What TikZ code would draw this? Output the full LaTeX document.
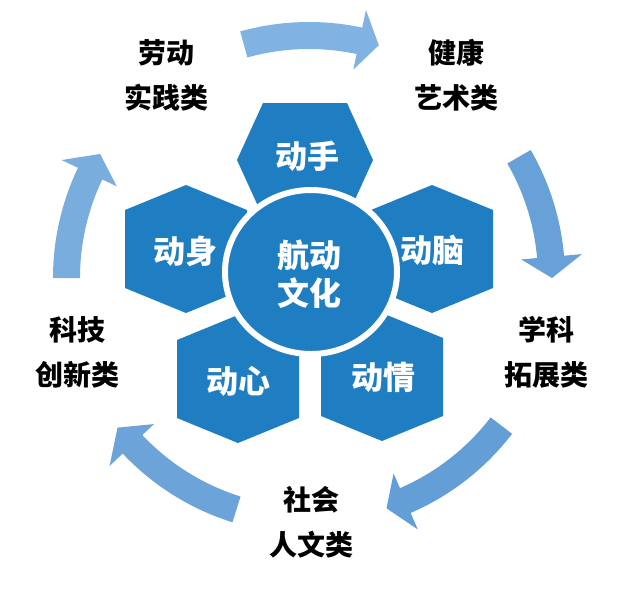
\documentclass[tikz,border=0pt]{standalone}
\usepackage{fontspec}
\newfontfamily\cjk{Noto Sans CJK SC}
\usetikzlibrary{calc}
\definecolor{hexblue}{RGB}{31,125,193}
\definecolor{arA}{RGB}{128,179,225}
\definecolor{arB}{RGB}{104,160,216}
\definecolor{arC}{RGB}{100,158,215}
\definecolor{arD}{RGB}{108,164,218}
\definecolor{arE}{RGB}{120,173,222}
\newcommand\ringarrow[4]{%
  \fill[#4] ($(ringc)+(#1:256)$) arc[start angle=#1, end angle=#2, radius=256]
    -- ($(ringc)+(#2:274)$) -- ($(ringc)+(#3:243)$) -- ($(ringc)+(#2:213)$)
    -- ($(ringc)+(#2:229)$) arc[start angle=#2, end angle=#1, radius=229] -- cycle;}
\begin{document}
\begin{tikzpicture}[x=1pt,y=-1pt,
  hexpt/.pic={\fill[hexblue] (0,-64) -- (61,-39) -- (61,39) -- (0,64) -- (-61,39) -- (-61,-39) -- cycle;},
  hexfl/.pic={\fill[hexblue] (-68,0) -- (-42,-57) -- (42,-57) -- (68,0) -- (42,57) -- (-42,57) -- cycle;},
  blk/.style={font=\cjk\bfseries\fontsize{28}{45}\selectfont, text=black, align=center, inner sep=0pt},
  wht/.style={font=\cjk\bfseries\fontsize{32}{38}\selectfont, text=white, align=center, inner sep=0pt}]
\useasboundingbox (0,0) rectangle (624,598);
\fill[white] (0,0) rectangle (624,598);
\coordinate (ringc) at (309,278);
% ring arrows
\ringarrow{-105.6}{-78}{-73.3}{arA}
\ringarrow{-30}{-5}{0}{arB}
\ringarrow{37.5}{66.6}{71.4}{arC}
\ringarrow{107.4}{136.7}{142}{arD}
\ringarrow{180}{205.5}{210.7}{arE}
% hexagons
\pic at (305,160) {hexfl};
\pic at (432,249) {hexpt};
\pic at (186,249) {hexpt};
\pic at (238,379) {hexpt};
\pic at (382,377) {hexpt};
% centre circle
\draw[white, line width=6pt, fill=hexblue] (311,272) ellipse [x radius=86, y radius=82];
% white labels
\node[wht] (shou) at (307,156) {动手};
\node[wht] (nao) at (432,250) {动脑};
\node[wht] (shen) at (185,251) {动身};
\node[wht] (xin) at (238,381) {动心};
\node[wht] (qing) at (383,377) {动情};
\node[wht] (hang) at (309,274) {航动\\文化};
% black labels
\node[blk] (laodong) at (166,75.5) {劳动\\实践类};
\node[blk] (jiankang) at (456,75.5) {健康\\艺术类};
\node[blk] (xueke) at (546,352.5) {学科\\拓展类};
\node[blk] (shehui) at (311,522.5) {社会\\人文类};
\node[blk] (keji) at (77,352.5) {科技\\创新类};
\end{tikzpicture}
\end{document}
